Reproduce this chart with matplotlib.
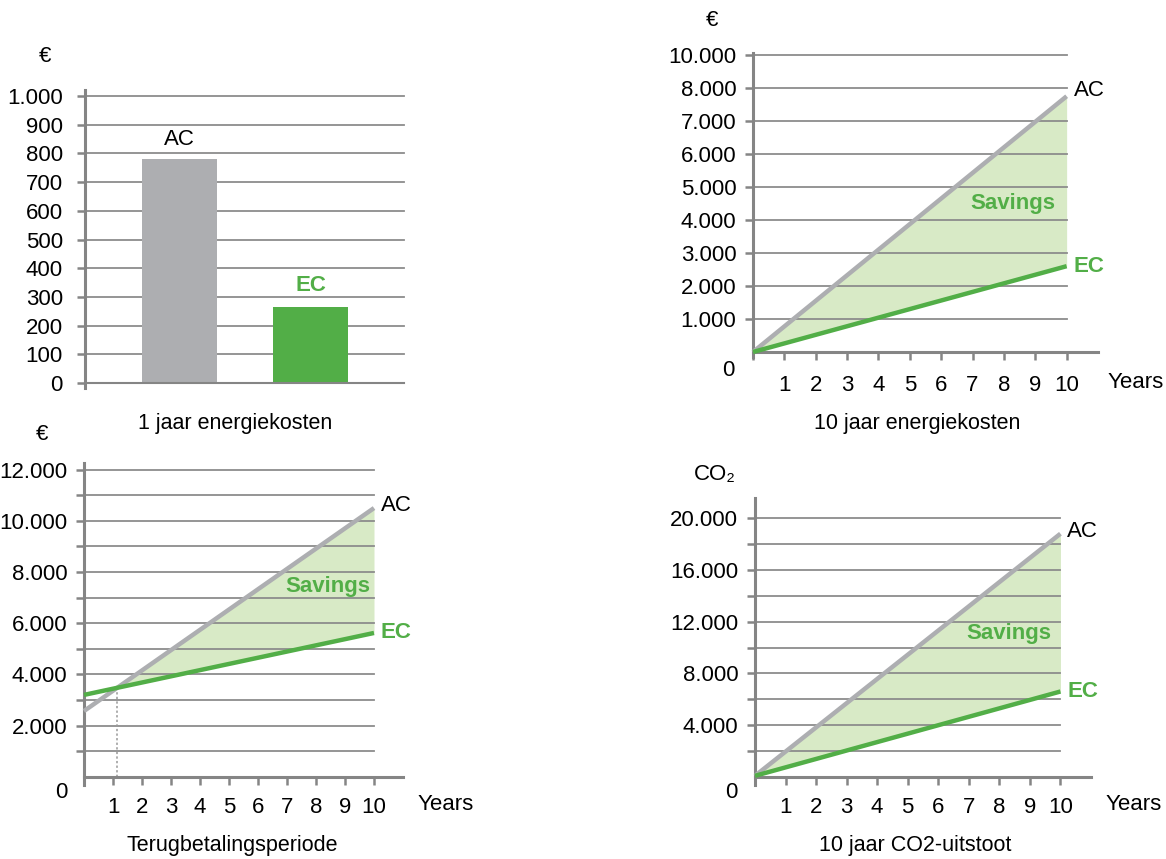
import matplotlib
matplotlib.use("Agg")
import matplotlib.pyplot as plt
import numpy as np

plt.rcParams['font.family'] = ['Liberation Sans', 'DejaVu Sans']

W, H = 1166, 859

# data
bar_names = ["AC", "EC"]
bar_values = [780, 265]                  # 1 jaar energiekosten

years = [0, 10]
ac_10y = [0, 7750]                        # 10 jaar energiekosten
ec_10y = [0, 2600]

ac_payback = [2570, 10500]                # Terugbetalingsperiode
ec_payback = [3200, 5620]

ac_co2 = [80, 18800]                      # 10 jaar CO2-uitstoot
ec_co2 = [80, 6600]

year_ticks = list(range(0, 11))
year_labels = [""] + [str(i) for i in range(1, 11)]

# labels as printed on the original (9.000 missing, top line says 10.000)
y2_ticks = [1000, 2000, 3000, 4000, 5000, 6000, 7000, 8000, 9000]
y2_labels = ["1.000", "2.000", "3.000", "4.000", "5.000", "6.000", "7.000", "8.000", "10.000"]

GREY = "#adaeb1"
GREEN = "#52ae47"
FILL = "#d8eac6"
AXC = "#858585"
GRIDC = "#8c8c8c"
FS = 16
TFS = 15.5

fig = plt.figure(figsize=(W / 100, H / 100), dpi=100)


def place(x0, x1, y0, y1):
    # pixel box -> axes
    return fig.add_axes([x0 / W, 1 - y1 / H, (x1 - x0) / W, (y1 - y0) / H])


def ftext(x, y, s, **kw):
    kw.setdefault("fontsize", FS)
    fig.text(x / W, 1 - y / H, s, va="center", **kw)


def title(x, y, s):
    ftext(x, y, s, ha="center", fontsize=TFS)


def style(ax, xmax_grid, yticks):
    for s in ["top", "right"]:
        ax.spines[s].set_visible(False)
    ax.spines["left"].set_color(AXC)
    ax.spines["left"].set_linewidth(2.2)
    ax.spines["bottom"].set_color(AXC)
    ax.spines["bottom"].set_linewidth(2.2)
    ax.spines["bottom"].set_position(("data", 0))
    for t in yticks:
        if t != 0:
            ax.plot([ax.get_xlim()[0], xmax_grid], [t, t], color=GRIDC, lw=1.3, zorder=1, clip_on=False)
    ax.tick_params(axis="both", colors=AXC, width=1.8, length=6, labelcolor="black", labelsize=FS)


def line_chart(ax, x, ac, ec, ymin, ymax, yticks, ylabels, xpad, ac_dy):
    ax.set_xlim(0, 11)
    ax.set_ylim(ymin, ymax)
    style(ax, 10, yticks)
    ax.set_yticks(yticks)
    ax.set_yticklabels(ylabels)
    ax.set_xticks(year_ticks)
    ax.set_xticklabels(year_labels)
    ax.tick_params(axis="x", pad=xpad)
    ax.tick_params(axis="y", pad=6)
    xx = np.linspace(x[0], x[-1], 200)
    a = np.interp(xx, x, ac)
    e = np.interp(xx, x, ec)
    ax.fill_between(xx, e, a, where=a >= e, color=FILL, lw=0, zorder=0, interpolate=True)
    ax.plot(x, ac, color=GREY, lw=3.2, zorder=3, solid_capstyle="butt", clip_on=False)
    ax.plot(x, ec, color=GREEN, lw=3.2, zorder=3, solid_capstyle="butt", clip_on=False)
    ax.annotate("AC", (x[-1], ac[-1]), xytext=(5, ac_dy), textcoords="offset points",
                ha="left", va="center", fontsize=FS)
    ax.annotate("EC", (x[-1], ec[-1]), xytext=(5, 0), textcoords="offset points",
                ha="left", va="center", fontsize=FS, color=GREEN, fontweight="bold")


# ---- 1 jaar energiekosten (bars)
ax1 = place(85, 404, 90, 388)
ax1.set_xlim(-0.72, 1.71)
ax1.set_ylim(-17, 1021)
t1 = list(range(0, 1001, 100))
style(ax1, 1.71, t1)
ax1.spines["bottom"].set_linewidth(1.5)
ax1.set_yticks(t1)
ax1.set_yticklabels(["0", "100", "200", "300", "400", "500", "600", "700", "800", "900", "1.000"])
ax1.set_xticks([])
ax1.tick_params(axis="y", pad=10)
ax1.bar([0, 1], bar_values, width=0.573, color=[GREY, GREEN], zorder=2)
ax1.annotate(bar_names[0], (0, bar_values[0]), xytext=(0, 14.5), textcoords="offset points",
             ha="center", va="center", fontsize=FS)
ax1.annotate(bar_names[1], (1, bar_values[1]), xytext=(0, 15.5), textcoords="offset points",
             ha="center", va="center", fontsize=FS, color=GREEN, fontweight="bold")
ftext(45, 56, "€", ha="center")
title(235, 423, "1 jaar energiekosten")

# ---- 10 jaar energiekosten
ax2 = place(753, 1098, 53, 357)
line_chart(ax2, years, ac_10y, ec_10y, -152, 9060, y2_ticks, y2_labels, 10.5, 4)
ax2.text(8.3, 4500, "Savings", color=GREEN, fontweight="bold", fontsize=FS, ha="center", va="center")
ftext(712, 20, "€", ha="center")
ftext(728, 370, "0", ha="center")
ftext(1108, 383, "Years", ha="left")
title(917, 423, "10 jaar energiekosten")

# ---- Terugbetalingsperiode
ax3 = place(84, 403, 463, 785)
t3 = list(range(1000, 12001, 1000))
l3 = ["{:,}".format(t).replace(",", ".") if t % 2000 == 0 else "" for t in t3]
line_chart(ax3, years, ac_payback, ec_payback, -320, 12260, t3, l3, 8.3, 1.5)
pb = (ec_payback[0] - ac_payback[0]) / ((ac_payback[1] - ac_payback[0]) / 10 - (ec_payback[1] - ec_payback[0]) / 10)
pb_val = np.interp(pb, years, ec_payback)
ax3.plot([pb, pb], [0, pb_val], color="#999999", lw=1.1, ls=(0, (1.5, 1.5)), zorder=2)
ax3.text(8.4, 7430, "Savings", color=GREEN, fontweight="bold", fontsize=FS, ha="center", va="center")
ftext(42, 434, "€", ha="center")
ftext(61, 793, "0", ha="center")
ftext(418, 805, "Years", ha="left")
title(232, 845, "Terugbetalingsperiode")

# ---- 10 jaar CO2-uitstoot
ax4 = place(755, 1091, 498, 785)
t4 = list(range(2000, 20001, 2000))
l4 = ["{:,}".format(t).replace(",", ".") if t % 4000 == 0 else "" for t in t4]
line_chart(ax4, years, ac_co2, ec_co2, -630, 21560, t4, l4, 8.3, 1.5)
ax4.text(8.3, 11050, "Savings", color=GREEN, fontweight="bold", fontsize=FS, ha="center", va="center")
ftext(715, 475, "CO₂", ha="center")
ftext(731, 792, "0", ha="center")
ftext(1106, 805, "Years", ha="left")
title(915, 845, "10 jaar CO2-uitstoot")

fig.savefig("out.png", dpi=100)
